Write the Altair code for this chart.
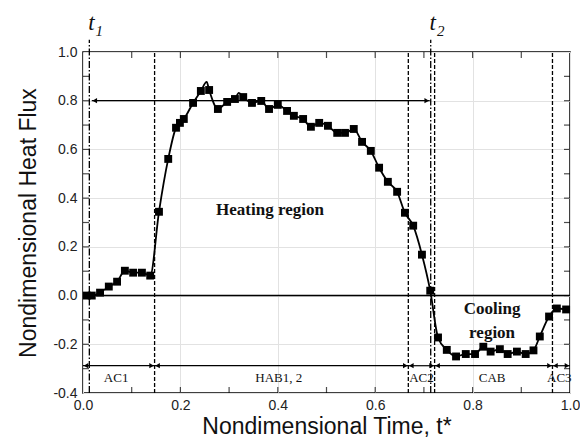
import altair as alt
import pandas as pd

# ---- data ----
marker_x = [0.008, 0.018, 0.035, 0.053, 0.070, 0.086, 0.103, 0.121, 0.138, 0.156,
            0.175, 0.191, 0.199, 0.207, 0.226, 0.242, 0.259, 0.277, 0.296, 0.312,
            0.329, 0.347, 0.366, 0.382, 0.400, 0.419, 0.433, 0.452, 0.468, 0.485,
            0.503, 0.522, 0.538, 0.556, 0.573, 0.591, 0.608, 0.626, 0.645, 0.661,
            0.678, 0.696, 0.713, 0.729, 0.747, 0.766, 0.786, 0.805, 0.822, 0.837,
            0.856, 0.872, 0.891, 0.909, 0.925, 0.938, 0.957, 0.973, 0.992]
marker_y = [0.000, 0.000, 0.012, 0.037, 0.057, 0.102, 0.094, 0.094, 0.082, 0.344,
            0.561, 0.689, 0.709, 0.725, 0.791, 0.840, 0.844, 0.766, 0.795, 0.807,
            0.815, 0.791, 0.799, 0.766, 0.783, 0.758, 0.738, 0.725, 0.693, 0.709,
            0.697, 0.668, 0.668, 0.684, 0.631, 0.594, 0.525, 0.467, 0.426, 0.340,
            0.287, 0.168, 0.020, -0.172, -0.223, -0.250, -0.240, -0.240, -0.210, -0.230,
            -0.220, -0.240, -0.230, -0.240, -0.225, -0.168, -0.086, -0.053, -0.057]
peak_x = [0.254, 0.320]
peak_y = [0.877, 0.832]

region_bounds = [0.147, 0.668, 0.722, 0.964]
t_lines = [0.013, 0.714]
t_names = ["t", "t"]
t_subs = ["1", "2"]

seg_start = [0.0, 0.147, 0.668, 0.722, 0.964]
seg_end = [0.147, 0.668, 0.722, 0.964, 1.0]
seg_labels = ["AC1", "HAB1, 2", "AC2", "CAB", "AC3"]
seg_label_x = [0.068, 0.402, 0.695, 0.840, 0.978]
seg_y = -0.288
seg_label_y = -0.337

span_start = [0.018]
span_end = [0.712]
span_y = 0.8

x_ticks = [0.1, 0.2, 0.3, 0.4, 0.5, 0.6, 0.7, 0.8, 0.9]
y_ticks = [-0.3, -0.2, -0.1, 0.0, 0.1, 0.2, 0.3, 0.4, 0.5, 0.6, 0.7, 0.8, 0.9]
x_labels = [0.0, 0.2, 0.4, 0.6, 0.8, 1.0]
y_labels = [-0.4, -0.2, 0.0, 0.2, 0.4, 0.6, 0.8, 1.0]

# ---- tables ----
markers = pd.DataFrame({"t": marker_x, "q": marker_y})
line_df = pd.concat([markers, pd.DataFrame({"t": peak_x, "q": peak_y})]).sort_values("t")
bounds_df = pd.DataFrame({"t": region_bounds})
tl_df = pd.DataFrame({"t": t_lines, "name": t_names, "sub": t_subs})
seg_df = pd.DataFrame({"s": seg_start, "e": seg_end, "y": [seg_y] * len(seg_start)})
seglab_df = pd.DataFrame({"t": seg_label_x, "label": seg_labels, "y": [seg_label_y] * len(seg_labels)})
span_df = pd.DataFrame({"s": span_start, "e": span_end, "y": [span_y]})
xt_df = pd.DataFrame({"v": x_ticks})
yt_df = pd.DataFrame({"v": y_ticks})

xs = alt.Scale(domain=[0, 1], nice=False, zero=False)
ys = alt.Scale(domain=[-0.4, 1.0], nice=False, zero=False)
LAB = "Liberation Sans"
SERIF = "Liberation Serif"

x_axis = alt.Axis(values=x_labels, grid=True, gridColor="#e2e2e2", ticks=False, domain=False,
                  labelFont=LAB, labelFontSize=14, labelColor="#222", labelPadding=5,
                  labelFlush=False, labelOverlap=False,
                  labelExpr="replace(format(datum.value, '.1f'), '\u2212', '-')",
                  title="Nondimensional Time, t*", titleFont=LAB, titleFontSize=23,
                  titleFontWeight="normal", titleColor="#111", titlePadding=3)
y_axis = alt.Axis(values=y_labels, grid=True, gridColor="#e2e2e2", ticks=False, domain=False,
                  labelFont=LAB, labelFontSize=14, labelColor="#222", labelPadding=6,
                  labelFlush=False, labelOverlap=False,
                  labelExpr="replace(format(datum.value, '.1f'), '\u2212', '-')",
                  title="Nondimensional Heat Flux", titleFont=LAB, titleFontSize=23,
                  titleFontWeight="normal", titleColor="#111", titlePadding=12)

def X(f):
    return alt.X(f, type="quantitative", scale=xs, axis=x_axis)

def Y(f):
    return alt.Y(f, type="quantitative", scale=ys, axis=y_axis)

def XD(v):
    return alt.XDatum(v, type="quantitative", scale=xs, axis=x_axis)

def YD(v):
    return alt.YDatum(v, type="quantitative", scale=ys, axis=y_axis)

line = alt.Chart(line_df).mark_line(interpolate="monotone", color="black", strokeWidth=1.8).encode(
    x=X("t"), y=Y("q"))
pts = alt.Chart(markers).mark_point(shape="square", filled=True, size=62, color="black", opacity=1).encode(
    x=X("t"), y=Y("q"))

zero = alt.Chart(pd.DataFrame({"a": [0]})).mark_rule(color="black", strokeWidth=1.5).encode(
    x=XD(0), x2=alt.datum(1), y=YD(0))

bounds = alt.Chart(bounds_df).mark_rule(color="black", strokeWidth=1.3, strokeDash=[4, 2]).encode(
    x=X("t"), y=YD(-0.4), y2=alt.datum(1.0))
tlines = alt.Chart(tl_df).mark_rule(color="black", strokeWidth=1.3, strokeDash=[7, 2, 1.5, 2]).encode(
    x=X("t"), y=YD(-0.4), y2=alt.datum(1.05))
tname = alt.Chart(tl_df).mark_text(font=SERIF, fontStyle="italic", fontSize=23, color="#111",
                                   dx=2, baseline="alphabetic").encode(
    x=X("t"), y=YD(1.09), text="name:N")
tsub = alt.Chart(tl_df).mark_text(font=SERIF, fontStyle="italic", fontSize=15, color="#111",
                                  dx=10, baseline="alphabetic").encode(
    x=X("t"), y=YD(1.065), text="sub:N")

def arrows(df, width=1.2):
    r = alt.Chart(df).mark_rule(color="black", strokeWidth=width).encode(
        x=X("s"), x2="e:Q", y=Y("y"))
    lh = alt.Chart(df).mark_point(shape="triangle-left", filled=True, size=28, color="black",
                                  opacity=1, xOffset=3).encode(x=X("s"), y=Y("y"))
    rh = alt.Chart(df).mark_point(shape="triangle-right", filled=True, size=28, color="black",
                                  opacity=1, xOffset=-3).encode(x=X("e"), y=Y("y"))
    return [r, lh, rh]

seglab = alt.Chart(seglab_df).mark_text(font=SERIF, fontSize=13, color="#111").encode(
    x=X("t"), y=Y("y"), text="label:N")

heat = alt.Chart(pd.DataFrame({"t": [0.384], "q": [0.35], "s": ["Heating region"]})).mark_text(
    font=SERIF, fontWeight="bold", fontSize=17, color="#111").encode(x=X("t"), y=Y("q"), text="s:N")
cool = alt.Chart(pd.DataFrame({"t": [0.840], "q": [-0.055], "s": ["Cooling\nregion"]})).mark_text(
    font=SERIF, fontWeight="bold", fontSize=17, color="#111", lineBreak="\n", lineHeight=24,
    baseline="middle").encode(x=X("t"), y=Y("q"), text="s:N")

tb = alt.Chart(xt_df).mark_tick(orient="vertical", size=6, thickness=1.2, color="black", yOffset=-3).encode(
    x=X("v"), y=YD(-0.4))
tt = alt.Chart(xt_df).mark_tick(orient="vertical", size=6, thickness=1.2, color="black", yOffset=3).encode(
    x=X("v"), y=YD(1.0))
tl = alt.Chart(yt_df).mark_tick(orient="horizontal", size=6, thickness=1.2, color="black", xOffset=3).encode(
    y=Y("v"), x=XD(0))
tr = alt.Chart(yt_df).mark_tick(orient="horizontal", size=6, thickness=1.2, color="black", xOffset=-3).encode(
    y=Y("v"), x=XD(1))

layers = [line, zero, bounds, tlines, tname, tsub] + arrows(span_df) + arrows(seg_df) + \
         [seglab, heat, cool, tb, tt, tl, tr, pts]

chart = alt.layer(*layers).properties(
    width=487, height=341,
    padding={"left": 75, "top": 44, "right": 10, "bottom": 48},
    autosize=alt.AutoSizeParams(type="none"),
    background="white",
).configure_view(stroke="black", strokeWidth=1.5)

chart.save("out.html", embed_options={"renderer": "svg", "actions": False})
